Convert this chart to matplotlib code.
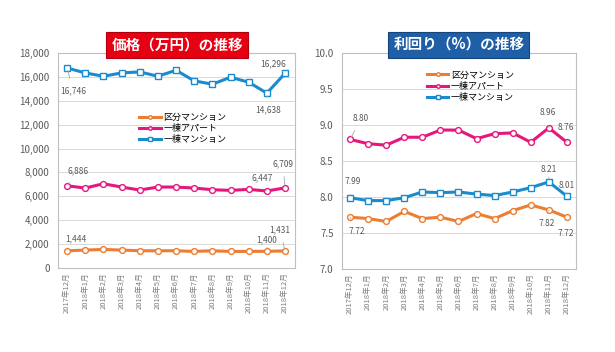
import matplotlib
matplotlib.use("Agg")
import matplotlib.pyplot as plt
from matplotlib.ticker import FuncFormatter

plt.rcParams["font.family"] = ["Noto Sans CJK JP", "DejaVu Sans"]

# ── Data ────────────────────────────────────────────────
months = ["2017年12月", "2018年1月", "2018年2月", "2018年3月", "2018年4月",
          "2018年5月", "2018年6月", "2018年7月", "2018年8月", "2018年9月",
          "2018年10月", "2018年11月", "2018年12月"]
series_names = ["区分マンション", "一棟アパート", "一棟マンション"]

price_kubun = [1444, 1500, 1555, 1500, 1444, 1444, 1444, 1389, 1444, 1389, 1389, 1400, 1431]
price_apart = [6886, 6694, 7055, 6778, 6528, 6778, 6778, 6694, 6555, 6500, 6583, 6447, 6709]
price_mansion = [16746, 16333, 16055, 16333, 16417, 16055, 16555, 15667, 15389, 15972, 15555, 14638, 16296]

yield_kubun = [7.72, 7.70, 7.66, 7.80, 7.70, 7.72, 7.66, 7.77, 7.70, 7.81, 7.89, 7.82, 7.72]
yield_apart = [8.80, 8.74, 8.72, 8.83, 8.83, 8.93, 8.93, 8.81, 8.88, 8.89, 8.76, 8.96, 8.76]
yield_mansion = [7.99, 7.95, 7.95, 7.99, 8.07, 8.06, 8.07, 8.04, 8.02, 8.07, 8.13, 8.21, 8.01]

# (series index, point index, label, dx px, dy px)
price_labels = [(2, 0, "16,746", 6, -23), (2, 12, "16,296", -12, 10), (2, 11, "14,638", 1, -17),
                (1, 0, "6,886", 11, 15), (1, 12, "6,709", -2, 24), (1, 11, "6,447", -5, 13),
                (0, 0, "1,444", 9, 12), (0, 12, "1,431", -5, 21), (0, 11, "1,400", 0, 11)]
yield_labels = [(1, 0, "8.80", 11, 21), (1, 11, "8.96", -1, 15), (1, 12, "8.76", -1, 15),
                (2, 0, "7.99", 3, 16), (2, 11, "8.21", 0, 12), (2, 12, "8.01", 0, 11),
                (0, 0, "7.72", 7, -14), (0, 11, "7.82", -2, -14), (0, 12, "7.72", -1, -16)]

COLORS = ["#ED7D31", "#E5177E", "#1A8BCC"]
MARKERS = ["o", "o", "s"]
GRAY = "#595959"


def draw_panel(ax, data, labels, yticks, fmt, xlim):
    x = range(len(months))
    for i, vals in enumerate(data):
        ax.plot(x, vals, color=COLORS[i], lw=2.2, marker=MARKERS[i], ms=4.2,
                mfc="white", mec=COLORS[i], mew=1.0, label=series_names[i], zorder=3)
    for si, pi, txt, dx, dy in labels:
        ax.annotate(txt, xy=(pi, data[si][pi]), xytext=(dx, dy), textcoords="offset pixels",
                    ha="center", va="center", fontsize=6, color=GRAY,
                    arrowprops=dict(arrowstyle="-", color="#A6A6A6", lw=0.6,
                                    shrinkA=4, shrinkB=2))
    ax.set_xlim(*xlim)
    ax.set_ylim(yticks[0], yticks[-1])
    ax.set_yticks(yticks)
    ax.yaxis.set_major_formatter(FuncFormatter(fmt))
    ax.set_xticks(list(x))
    ax.set_xticklabels(months, rotation=90, fontsize=5.5, color="#7F7F7F")
    ax.tick_params(axis="y", length=0, labelsize=7, labelcolor=GRAY, pad=6)
    ax.tick_params(axis="x", length=0, pad=3)
    ax.grid(axis="y", color="#D9D9D9", lw=0.7)
    ax.set_axisbelow(True)
    for s in ax.spines.values():
        s.set_color("#BFBFBF")
        s.set_linewidth(0.8)


fig = plt.figure(figsize=(6.15, 3.52), dpi=100)

ax1 = fig.add_axes([0.0943, 0.2386, 0.3854, 0.6108])
draw_panel(ax1, [price_kubun, price_apart, price_mansion], price_labels,
           list(range(0, 18001, 2000)), lambda v, p: f"{int(v):,}", (-0.5, 12.55))
ax1.legend(loc="upper left", bbox_to_anchor=(0.22, 0.69), bbox_transform=fig.transFigure,
           frameon=False, fontsize=6.5, handlelength=2.4, labelspacing=0.25,
           borderaxespad=0, handletextpad=0.3, markerscale=0.6)

ax2 = fig.add_axes([0.556, 0.2358, 0.3805, 0.6136])
draw_panel(ax2, [yield_kubun, yield_apart, yield_mansion], yield_labels,
           [7.0, 7.5, 8.0, 8.5, 9.0, 9.5, 10.0], lambda v, p: f"{v:.1f}", (-0.45, 12.5))
ax2.legend(loc="upper left", bbox_to_anchor=(0.688, 0.81), bbox_transform=fig.transFigure,
           frameon=False, fontsize=6.5, handlelength=2.4, labelspacing=0.25,
           borderaxespad=0, handletextpad=0.3, markerscale=0.6)

# ── Title boxes ─────────────────────────────────────────
fig.text(0.288, 0.873, "価格（万円）の推移", ha="center", va="center", fontsize=10.5,
         fontweight="bold", color="white", zorder=5,
         bbox=dict(boxstyle="square,pad=0.35", fc="#E60012", ec="#B00010", lw=0.8))
fig.text(0.746, 0.873, "利回り（%）の推移", ha="center", va="center", fontsize=10.5,
         fontweight="bold", color="white", zorder=5,
         bbox=dict(boxstyle="square,pad=0.35", fc="#1F5FA8", ec="#16457C", lw=0.8))

fig.savefig("out.png", dpi=100)
